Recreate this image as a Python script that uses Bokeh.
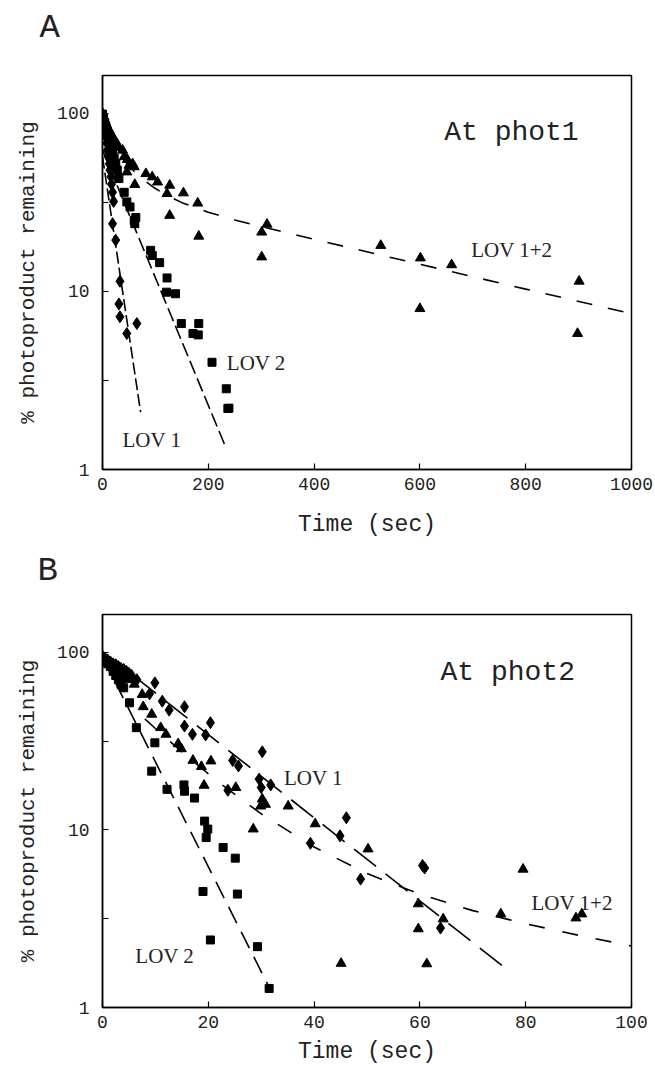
from bokeh.plotting import figure
from bokeh.layouts import column
from bokeh.models import Range1d, FixedTicker, PrintfTickFormatter, Label, Title
from bokeh.embed import file_html
from bokeh.resources import INLINE

MONO = "Liberation Mono"
SERIF = "Liberation Serif"
INK = "#222222"

# ---------------- Panel A : At phot1 (time 0-1000 s) ----------------
a_lov1_t = [0, 1, 3, 4, 6, 8, 9, 11, 13, 14, 16, 17, 19, 21, 19, 25, 33, 31, 33, 46, 65]
a_lov1_v = [97, 92, 86, 80, 74, 68, 62, 57, 52, 48, 44, 40, 36, 32, 24, 19.4, 11.4, 8.5, 7.2, 5.8, 6.6]

a_lov2_t = [0, 2, 4, 6, 8, 10, 13, 16, 19, 22, 25, 28, 31, 41, 46, 52, 60, 61, 63,
            91, 94, 108, 122, 121, 138, 149, 182, 171, 181, 207, 234, 239, 237]
a_lov2_v = [99, 94, 89, 85, 80, 76, 71, 66, 61, 56, 52, 48, 43, 36, 31.8, 29.8, 25, 24, 26,
            17, 15.9, 14.5, 11.9, 9.9, 9.7, 6.6, 6.6, 5.8, 5.7, 4.0, 2.84, 2.21, 2.2]

a_lov12_t = [0, 2, 4, 6, 8, 10, 13, 16, 19, 22, 25, 28, 31, 38, 41, 46, 47, 50, 57, 60, 61,
             82, 94, 104, 127, 122, 153, 180, 127, 182, 311, 301, 301, 526, 601, 660, 600, 901, 898]
a_lov12_v = [100, 96, 92, 89, 86, 83, 80, 77, 74, 71, 69, 67, 64, 62, 57, 46.8, 55, 51, 52, 50, 39.8,
             45.8, 43.9, 41.1, 39.4, 35.4, 35.7, 31.3, 26.7, 20.4, 23.8, 21.5, 15.6, 18.1, 15.4, 14.1, 8.0, 11.4, 5.8]

a_fit1_t = [0, 72]
a_fit1_v = [57, 2.1]
a_fit2_t = [0, 234]
a_fit2_v = [62, 1.31]
a_fit12_t = [40, 60, 80, 100, 125, 150, 200, 250, 300, 400, 600, 800, 1000]
a_fit12_v = [54.8, 47.2, 41.8, 37.8, 34.2, 31.5, 27.8, 25.2, 23.1, 19.6, 14.2, 10.3, 7.5]

# ---------------- Panel B : At phot2 (time 0-100 s) ----------------
b_lov1_t = [0, 0.5, 1, 1.5, 2, 2.5, 3, 3.5, 4, 4.5, 5, 5.5, 6.5, 8.9, 9.9, 11.3, 12.6, 15.5, 15.5,
            17, 19.5, 20.4, 24.6, 25.7, 30.2, 29.6, 30, 31.8, 23.7, 46.1, 44.9, 39.3, 48.8, 60.5, 60.9, 63.9]
b_lov1_v = [93, 91, 90, 88, 86, 85, 83, 81, 80, 78, 76, 74, 70, 58.3, 67.2, 53, 47.2, 49.3, 38.4,
            34.5, 34.2, 40.1, 24.6, 22.9, 27.5, 19.3, 17.3, 17.9, 16.7, 11.7, 9.25, 8.4, 5.28, 6.3, 6.1, 2.8]

b_lov2_t = [0, 0.5, 1, 1.5, 2, 2.5, 3, 3.5, 4, 5.1, 6.4, 9.9, 9.3, 12.2, 15.4, 15.5, 17.4,
            19.3, 19.9, 19.6, 22.8, 25.1, 19, 25.5, 20.4, 29.3, 31.5]
b_lov2_v = [92, 89, 86, 83, 78, 74, 70, 66, 63, 51.9, 37.6, 30.9, 21.4, 16.9, 17.9, 16.5, 15.1,
            11.2, 10.1, 9.05, 7.95, 6.93, 4.5, 4.35, 2.4, 2.2, 1.28]

b_lov12_t = [0, 0.5, 1, 1.5, 2, 2.5, 3, 3.5, 4, 4.5, 5, 6, 7.5, 7.7, 9.3, 11.0, 12, 14.3, 14.9,
             17.1, 18.7, 20.5, 19.2, 25.2, 29.9, 35.1, 30.2, 30.8, 28.5, 40.2, 50.2, 59.7, 64.4,
             59.7, 79.5, 61.3, 45.1, 75.3, 89.5, 90.6]
b_lov12_v = [95, 92, 90, 87, 85, 82, 80, 78, 75, 72, 70, 66, 57.8, 49.3, 44.7, 37.6, 34.5, 30.5, 28.6,
             24.6, 22.7, 24.4, 17.8, 17.3, 13.6, 13.6, 14.9, 13.9, 10.1, 10.8, 7.8, 3.83, 3.15,
             2.77, 6.0, 1.76, 1.77, 3.36, 3.19, 3.36]

b_fit1_t = [0, 76]
b_fit1_v = [101, 1.68]
b_fit2_t = [0, 31.5]
b_fit2_v = [94, 1.3]
b_fit12_t = [8, 10, 15, 22, 30, 40, 50, 60, 70, 80, 90, 100]
b_fit12_v = [42.1, 37.2, 27.5, 18.5, 12.3, 8.0, 5.68, 4.34, 3.51, 2.96, 2.55, 2.22]

y_ticks = [1, 10, 100]
y_minor = [3.162, 31.62]
a_x_ticks = [0, 200, 400, 600, 800, 1000]
b_x_ticks = [0, 20, 40, 60, 80, 100]


def make_panel(width, height, borders, xmax, xticks, letter, letter_offset, spacer_size,
               xlabel_standoff):
    left, right, top, bottom = borders
    p = figure(width=width, height=height, y_axis_type="log",
               x_range=Range1d(0, xmax), y_range=Range1d(1, 163),
               output_backend="svg", toolbar_location=None, title=None,
               min_border_left=left, min_border_right=right,
               min_border_top=top, min_border_bottom=bottom)
    p.background_fill_color = "white"
    p.border_fill_color = "white"
    p.grid.visible = False
    p.outline_line_color = "black"
    p.outline_line_width = 1.5
    p.xaxis.ticker = FixedTicker(ticks=xticks)
    p.yaxis.ticker = FixedTicker(ticks=y_ticks, minor_ticks=y_minor)
    p.yaxis.formatter = PrintfTickFormatter(format="%d")
    for ax in (p.xaxis[0], p.yaxis[0]):
        ax.axis_line_color = "black"
        ax.axis_line_width = 1.5
        ax.major_tick_in = 6
        ax.major_tick_out = 0
        ax.minor_tick_in = 6
        ax.minor_tick_out = 0
        ax.major_tick_line_color = "black"
        ax.major_tick_line_width = 1.2
        ax.minor_tick_line_color = "black"
        ax.minor_tick_line_width = 1.2
        ax.major_label_text_font = MONO
        ax.major_label_text_font_size = "18px"
        ax.major_label_text_color = INK
        ax.axis_label_text_font = MONO
        ax.axis_label_text_font_style = "normal"
        ax.axis_label_text_color = INK
    p.xaxis.minor_tick_line_color = None
    p.xaxis.major_label_standoff = 8
    p.xaxis.axis_label = "Time (sec)"
    p.xaxis.axis_label_text_font_size = "23px"
    p.xaxis.axis_label_standoff = xlabel_standoff
    p.yaxis.major_label_standoff = 13
    p.yaxis.axis_label = "% photoproduct remaining"
    p.yaxis.axis_label_text_font_size = "21px"
    p.yaxis.axis_label_standoff = 14
    # blank spacer title nearest the frame, then the panel letter above it
    p.add_layout(Title(text=" ", text_font=MONO, text_font_size=spacer_size,
                       text_color="white"), "above")
    p.add_layout(Title(text=letter, align="left", offset=letter_offset,
                       text_font=MONO, text_font_size="34px", text_font_style="normal",
                       text_color=INK), "above")
    return p


def note(p, x, y, text, font, size):
    p.add_layout(Label(x=x, y=y, text=text, text_font=font, text_font_size=size,
                       text_color=INK, text_align="left", text_baseline="alphabetic"))


# Panel A  (frame: x 100-631, y 75-469 in page pixels)
pA = make_panel(655, 543, (100, 24, 75, 74), 1000, a_x_ticks, "A", -63, "11px", 19)
pA.line(a_fit1_t, a_fit1_v, line_color="black", line_width=1.6, line_dash="12 4")
pA.line(a_fit2_t, a_fit2_v, line_color="black", line_width=1.6, line_dash="14 5")
pA.line(a_fit12_t, a_fit12_v, line_color="black", line_width=1.6, line_dash="16 16")
pA.scatter(a_lov1_t, a_lov1_v, marker="diamond", size=12, color="black")
pA.scatter(a_lov2_t, a_lov2_v, marker="square", size=8, color="black")
pA.scatter(a_lov12_t, a_lov12_v, marker="triangle", size=10, color="black")
note(pA, 646, 78, "At phot1", MONO, "28px")
note(pA, 697, 17, "LOV 1+2", SERIF, "21px")
note(pA, 235, 3.94, "LOV 2", SERIF, "21px")
note(pA, 37.7, 1.456, "LOV 1", SERIF, "21px")

# Panel B  (frame: x 102-636, y 614-1007 in page pixels)
pB = make_panel(655, 527, (102, 19, 71, 63), 100, b_x_ticks, "B", -65, "7px", 8)
pB.line(b_fit1_t, b_fit1_v, line_color="black", line_width=1.6, line_dash="28 12")
pB.line(b_fit2_t, b_fit2_v, line_color="black", line_width=1.6, line_dash="18 10")
pB.line(b_fit12_t, b_fit12_v, line_color="black", line_width=1.6, line_dash="16 18")
pB.scatter(b_lov1_t, b_lov1_v, marker="diamond", size=12, color="black")
pB.scatter(b_lov2_t, b_lov2_v, marker="square", size=8, color="black")
pB.scatter(b_lov12_t, b_lov12_v, marker="triangle", size=10, color="black")
note(pB, 63.9, 77.2, "At phot2", MONO, "28px")
note(pB, 34.3, 19.6, "LOV 1", SERIF, "21px")
note(pB, 81.1, 3.89, "LOV 1+2", SERIF, "21px")
note(pB, 6.2, 1.96, "LOV 2", SERIF, "21px")

layout = column(pA, pB, spacing=0)
open("out.html", "w").write(file_html(layout, INLINE))
